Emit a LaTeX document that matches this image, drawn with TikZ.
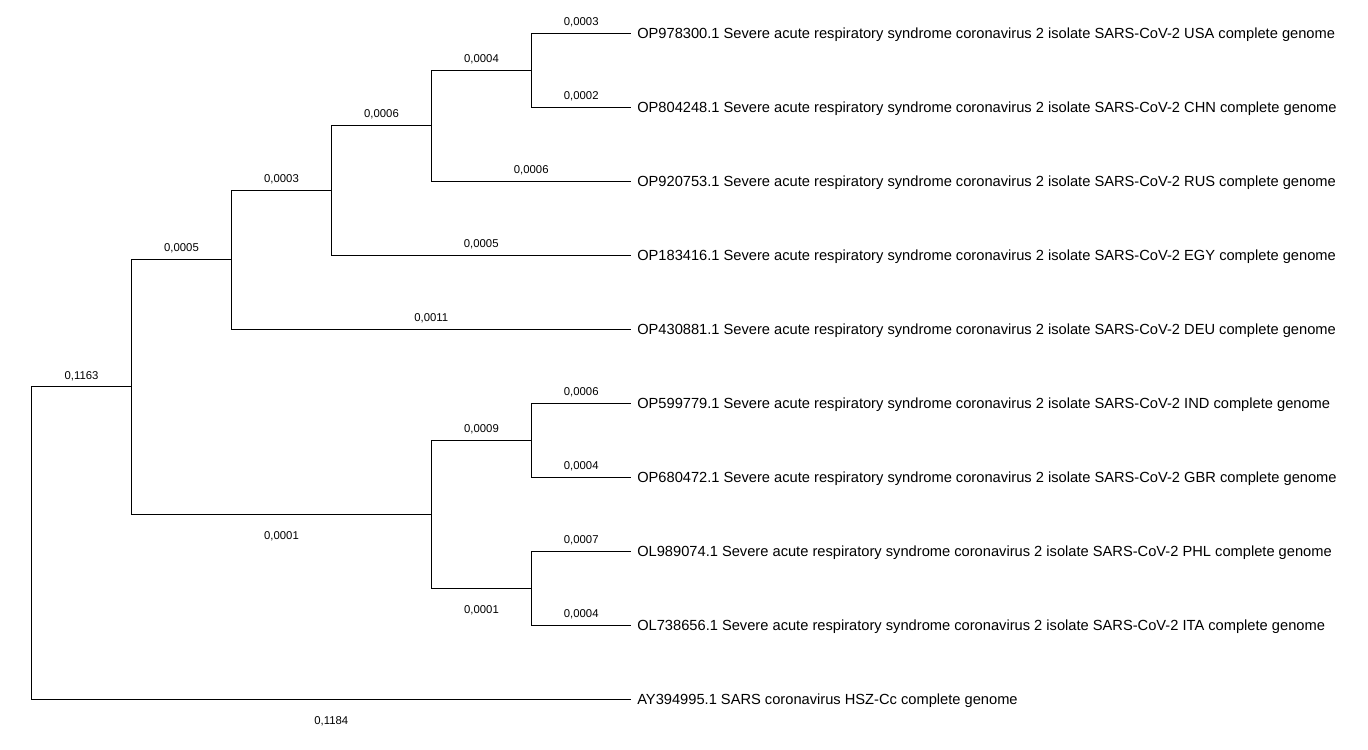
\documentclass[tikz,border=0pt]{standalone}
\usepackage{fontspec}
\setmainfont{Liberation Sans}
\usetikzlibrary{positioning}

\begin{document}
\begin{tikzpicture}[
    x=0.75pt, y=-0.75pt,
    branch/.style={line width=0.75pt},
    taxon/.style={font=\fontsize{11}{13}\selectfont, anchor=west, inner sep=0pt, yshift=-1.5pt},
    blen/.style={font=\fontsize{8.5}{10}\selectfont, inner sep=0pt, pos=0.75},
    blenup/.style={blen, yshift=8.25pt},
    blendn/.style={blen, yshift=-16.5pt},
]
\useasboundingbox (0,0) rectangle (1368,750);
% ============================================================
% Leaf tips and taxon names
% ============================================================
\foreach \i/\acc/\ctry in {1/OP978300.1/USA, 2/OP804248.1/CHN, 3/OP920753.1/RUS,
    4/OP183416.1/EGY, 5/OP430881.1/DEU, 6/OP599779.1/IND, 7/OP680472.1/GBR,
    8/OL989074.1/PHL, 9/OL738656.1/ITA} {
    \coordinate (t\i) at (631, -41+74*\i);
    \node[taxon, right=4.5pt of t\i] (n\i) {\acc\ Severe acute respiratory syndrome coronavirus 2 isolate SARS-CoV-2 \ctry\ complete genome};
}
\coordinate (t10) at (631, 699);
\node[taxon, right=4.5pt of t10] (n10) {AY394995.1 SARS coronavirus HSZ-Cc complete genome};
% ============================================================
% Internal nodes
% ============================================================
\coordinate (nA) at (531.5, 70);
\coordinate (nB) at (431.5, 125.5);
\coordinate (nC) at (331.5, 190.25);
\coordinate (nD) at (231.5, 259.6);
\coordinate (nG) at (531.5, 440);
\coordinate (nH) at (531.5, 588);
\coordinate (nF) at (431.5, 514);
\coordinate (nE) at (131.5, 386.8);
\coordinate (root) at (31.5, 542.9);
% --- upper clade ---
\draw[branch] (nA) |- node[blenup] {0,0003} (t1);
\draw[branch] (nA) |- node[blenup] {0,0002} (t2);
\draw[branch] (nB) |- node[blenup] {0,0004} (nA);
\draw[branch] (nB) |- node[blenup] {0,0006} (t3);
\draw[branch] (nC) |- node[blenup] {0,0006} (nB);
\draw[branch] (nC) |- node[blenup] {0,0005} (t4);
\draw[branch] (nD) |- node[blenup] {0,0003} (nC);
\draw[branch] (nD) |- node[blenup] {0,0011} (t5);
% --- lower clade ---
\draw[branch] (nG) |- node[blenup] {0,0006} (t6);
\draw[branch] (nG) |- node[blenup] {0,0004} (t7);
\draw[branch] (nH) |- node[blenup] {0,0007} (t8);
\draw[branch] (nH) |- node[blenup] {0,0004} (t9);
\draw[branch] (nF) |- node[blenup] {0,0009} (nG);
\draw[branch] (nF) |- node[blendn] {0,0001} (nH);
% --- root ---
\draw[branch] (nE) |- node[blenup] {0,0005} (nD);
\draw[branch] (nE) |- node[blendn] {0,0001} (nF);
\draw[branch] (root) |- node[blenup] {0,1163} (nE);
\draw[branch] (root) |- node[blendn] {0,1184} (t10);
\end{tikzpicture}
\end{document}
